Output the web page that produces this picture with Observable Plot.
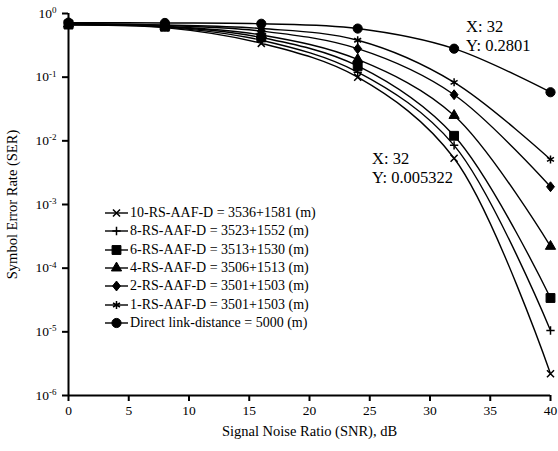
<!DOCTYPE html>
<html><head><meta charset="utf-8">
<script src="https://cdn.jsdelivr.net/npm/d3@7"></script>
<script src="https://cdn.jsdelivr.net/npm/@observablehq/plot@0.6"></script>
<style>
body{margin:0;background:#fff;}
#wrap{position:relative;width:558px;height:451px;overflow:hidden;}
#legend{position:absolute;left:104px;top:204px;font-family:"Liberation Serif","Times New Roman",serif;font-size:14px;color:#000;}
.row{height:18.3px;display:flex;align-items:center;white-space:nowrap;}
.row svg{margin-right:1px;display:block;}
g[aria-label="y-axis label"] text, g[aria-label="x-axis label"] text{font-size:14.5px;}
</style></head><body><div id="wrap"><div id="legend"></div></div>
<script>
// ---- data ----
const snr = [0, 8, 16, 24, 32, 40];
const seriesNames = [
  "10-RS-AAF-D = 3536+1581 (m)",
  "8-RS-AAF-D = 3523+1552 (m)",
  "6-RS-AAF-D = 3513+1530 (m)",
  "4-RS-AAF-D = 3506+1513 (m)",
  "2-RS-AAF-D = 3501+1503 (m)",
  "1-RS-AAF-D = 3501+1503 (m)",
  "Direct link-distance = 5000 (m)"
];
const ser10rs = [0.66, 0.60, 0.34, 0.10, 0.005322, 2.2e-6];
const ser8rs  = [0.67, 0.61, 0.38, 0.12, 0.0085, 1.05e-5];
const ser6rs  = [0.67, 0.62, 0.42, 0.15, 0.012, 3.4e-5];
const ser4rs  = [0.68, 0.63, 0.46, 0.19, 0.025, 2.2e-4];
const ser2rs  = [0.69, 0.65, 0.53, 0.28, 0.053, 0.0019];
const ser1rs  = [0.70, 0.66, 0.58, 0.38, 0.083, 0.0051];
const serDirect = [0.72, 0.71, 0.69, 0.58, 0.2801, 0.058];
const yTicks = [1, 1e-1, 1e-2, 1e-3, 1e-4, 1e-5, 1e-6];
const xTicks = [0, 5, 10, 15, 20, 25, 30, 35, 40];
const annX = [32, 32];
const annY = [0.2801, 0.005322];

// ---- styles (not data) ----
const seriesValues = [ser10rs, ser8rs, ser6rs, ser4rs, ser2rs, ser1rs, serDirect];
const narrowDiamond = {
  draw(context, size) {
    const h = Math.sqrt(size) * 0.62, w = h * 0.8;
    context.moveTo(0, -h); context.lineTo(w, 0); context.lineTo(0, h); context.lineTo(-w, 0); context.closePath();
  }
};
const markers = [
  {symbol: d3.symbolTimes, r: 3.3, filled: false},
  {symbol: d3.symbolPlus, r: 2.8, filled: false},
  {symbol: d3.symbolSquare, r: 5, filled: true},
  {symbol: d3.symbolTriangle, r: 3.8, filled: true},
  {symbol: narrowDiamond, r: 4.5, filled: true},
  {symbol: d3.symbolAsterisk, r: 3.8, filled: false},
  {symbol: d3.symbolCircle, r: 4.6, filled: true}
];

const rows = [];
seriesNames.forEach((name, i) => snr.forEach((x, j) => rows.push({series: name, idx: i, snr: x, ser: seriesValues[i][j]})));

const marks = [];
seriesNames.forEach((name, i) => {
  const d = rows.filter(r => r.series === name);
  marks.push(Plot.line(d, {x: "snr", y: "ser", curve: "catmull-rom", stroke: "black", strokeWidth: 1.4}));
});
seriesNames.forEach((name, i) => {
  const d = rows.filter(r => r.series === name);
  const m = markers[i];
  marks.push(Plot.dot(d, {x: "snr", y: "ser", symbol: m.symbol, r: m.r,
    fill: m.filled ? "black" : "none", stroke: "black", strokeWidth: m.filled ? 1 : 1.5}));
});

const ann = annX.map((x, i) => ({x, y: annY[i], label: `X: ${x}\nY: ${annY[i]}`}));

const plot = Plot.plot({
  width: 558, height: 451,
  marginLeft: 68, marginRight: 8, marginTop: 13, marginBottom: 56,
  style: {fontFamily: '"Liberation Serif","Times New Roman",serif', fontSize: "13px", background: "white", color: "black"},
  x: {domain: [0, 40]},
  y: {type: "log", domain: [1e-6, 1]},
  marks: [
    ...marks,
    Plot.text([ann[0]], {x: "x", y: "y", text: "label", textAnchor: "start", lineAnchor: "middle", dx: 12, dy: -13, fontSize: 16.5, lineHeight: 1.15}),
    Plot.text([ann[1]], {x: "x", y: "y", text: "label", textAnchor: "start", lineAnchor: "middle", dx: -82, dy: 9, fontSize: 16.5, lineHeight: 1.15}),
    Plot.axisX({ticks: xTicks, tickSize: 6, strokeWidth: 2, tickPadding: 4, fontSize: 13.5, label: "Signal Noise Ratio (SNR), dB", labelAnchor: "center", labelArrow: false, labelOffset: 40, tickFormat: d => String(d)}),
    Plot.axisY({ticks: yTicks, tickSize: 6, strokeWidth: 2, tickPadding: 6, fontSize: 13.5, label: "Symbol Error Rate (SER)", labelAnchor: "center", labelArrow: false, labelOffset: 62, tickFormat: d => String(Math.round(Math.log10(d)))}),
    Plot.ruleX([0], {strokeWidth: 2}),
    Plot.ruleY([1e-6], {strokeWidth: 2})
  ]
});
document.getElementById("wrap").prepend(plot);

// superscript exponent formatting for y tick labels
plot.querySelectorAll('g[aria-label="y-axis tick label"] text').forEach(t => {
  const e = t.textContent;
  t.textContent = "10";
  const ts = document.createElementNS("http://www.w3.org/2000/svg", "tspan");
  ts.setAttribute("dy", "-0.55em");
  ts.setAttribute("font-size", "9px");
  ts.textContent = e;
  t.appendChild(ts);
});

// legend
const leg = d3.select("#legend");
seriesNames.forEach((name, i) => {
  const m = markers[i];
  const row = leg.append("div").attr("class", "row");
  const s = row.append("svg").attr("width", 25).attr("height", 18);
  s.append("line").attr("x1", 1).attr("x2", 24).attr("y1", 9).attr("y2", 9).attr("stroke", "black").attr("stroke-width", 1.4);
  s.append("path").attr("transform", "translate(12.5,9)")
    .attr("d", d3.symbol(m.symbol, m.r * m.r * Math.PI)())
    .attr("fill", m.filled ? "black" : "none").attr("stroke", "black").attr("stroke-width", m.filled ? 1 : 1.5);
  row.append("span").text(name);
});
</script></body></html>
